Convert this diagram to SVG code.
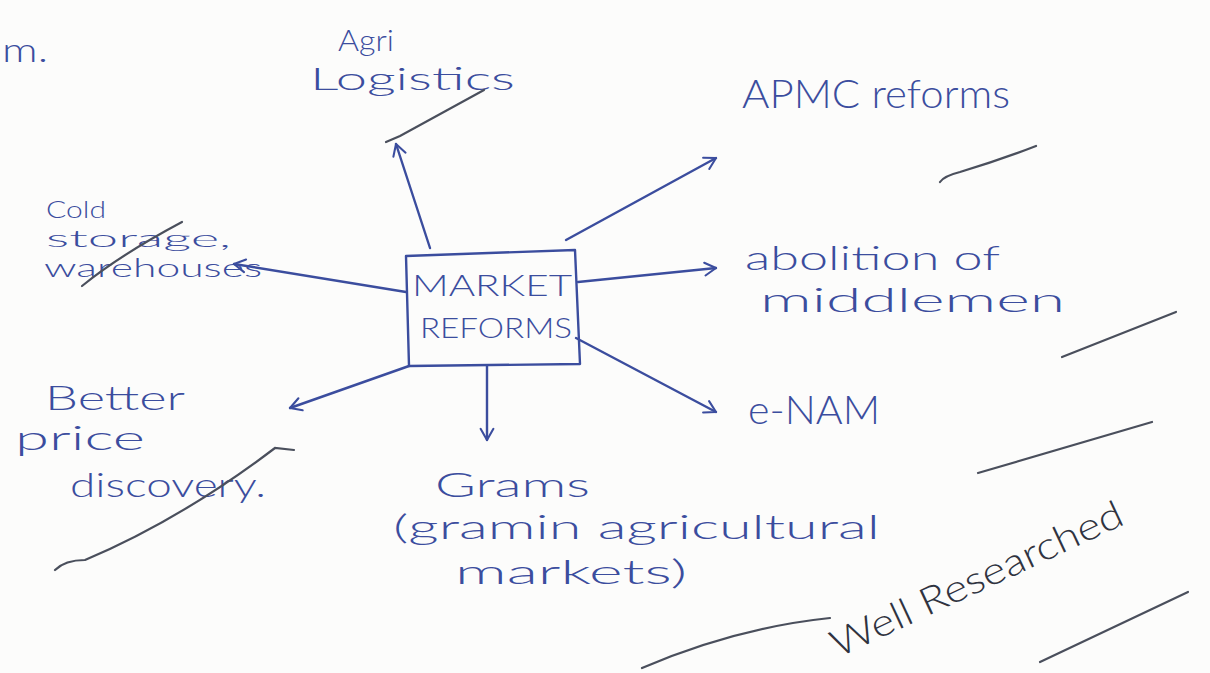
<svg xmlns="http://www.w3.org/2000/svg" width="1210" height="673" viewBox="0 0 1210 673">
  <style>
    .ink { fill: #3b4d9e; font-family: Lato, "Liberation Sans", "DejaVu Sans", sans-serif; font-weight: 300; }
    .pen { fill: none; stroke: #3b4d9e; stroke-width: 2.4; stroke-linecap: round; stroke-linejoin: round; }
    .tick { fill: none; stroke: #4a4f5c; stroke-width: 2.2; stroke-linecap: round; }
    .note { fill: #2f3340; font-family: Lato, "Liberation Sans", "DejaVu Sans", sans-serif; font-weight: 300; }
  </style>
  <defs>
    <marker id="head" viewBox="0 0 20 20" refX="18" refY="10" markerWidth="16" markerHeight="16" markerUnits="userSpaceOnUse" orient="auto">
      <polyline points="4,2 18,10 4,18" fill="none" stroke="#3b4d9e" stroke-width="2.6" stroke-linecap="round" stroke-linejoin="round"/>
    </marker>
  </defs>
  <rect width="1210" height="673" fill="#fcfcfb"/>

  <!-- text carried over from the previous line -->
  <text class="ink" x="2" y="62" font-size="34" textLength="46" lengthAdjust="spacingAndGlyphs">m.</text>

  <!-- centre node -->
  <g id="market-reforms">
    <path class="pen" d="M406,256 L575,250 L580,364 L409,366 Z"/>
    <text class="ink" x="412" y="296" font-size="30" textLength="160" lengthAdjust="spacingAndGlyphs">MARKET</text>
    <text class="ink" x="420" y="338" font-size="28" textLength="152" lengthAdjust="spacingAndGlyphs">REFORMS</text>
  </g>

  <!-- connectors -->
  <g id="connectors">
    <path class="pen" d="M430,248 L396,144" marker-end="url(#head)"/>
    <path class="pen" d="M406,292 L234,264" marker-end="url(#head)"/>
    <path class="pen" d="M566,240 L716,158" marker-end="url(#head)"/>
    <path class="pen" d="M578,282 L716,268" marker-end="url(#head)"/>
    <path class="pen" d="M576,338 L716,412" marker-end="url(#head)"/>
    <path class="pen" d="M409,366 L290,408" marker-end="url(#head)"/>
    <path class="pen" d="M487,366 L487,440" marker-end="url(#head)"/>
  </g>

  <g id="agri-logistics">
    <text class="ink" x="338" y="51" font-size="30" textLength="56" lengthAdjust="spacingAndGlyphs">Agri</text>
    <text class="ink" x="310" y="90" font-size="32" textLength="205" lengthAdjust="spacingAndGlyphs">Logistics</text>
  </g>

  <g id="cold-storage">
    <text class="ink" x="46" y="218" font-size="24" textLength="60" lengthAdjust="spacingAndGlyphs">Cold</text>
    <text class="ink" x="46" y="247" font-size="24" textLength="185" lengthAdjust="spacingAndGlyphs">storage,</text>
    <text class="ink" x="44" y="277" font-size="25" textLength="218" lengthAdjust="spacingAndGlyphs">warehouses</text>
  </g>

  <g id="apmc-reforms">
    <text class="ink" x="742" y="108" font-size="40" textLength="268" lengthAdjust="spacingAndGlyphs">APMC reforms</text>
  </g>

  <g id="middlemen">
    <text class="ink" x="745" y="270" font-size="34" textLength="255" lengthAdjust="spacingAndGlyphs">abolition of</text>
    <text class="ink" x="760" y="312" font-size="34" textLength="305" lengthAdjust="spacingAndGlyphs">middlemen</text>
  </g>

  <g id="e-nam">
    <text class="ink" x="748" y="424" font-size="40" textLength="132" lengthAdjust="spacingAndGlyphs">e-NAM</text>
  </g>

  <g id="price-discovery">
    <text class="ink" x="45" y="410" font-size="33" textLength="140" lengthAdjust="spacingAndGlyphs">Better</text>
    <text class="ink" x="15" y="450" font-size="33" textLength="130" lengthAdjust="spacingAndGlyphs">price</text>
    <text class="ink" x="70" y="497" font-size="33" textLength="196" lengthAdjust="spacingAndGlyphs">discovery.</text>
  </g>

  <g id="grams">
    <text class="ink" x="435" y="497" font-size="34" textLength="155" lengthAdjust="spacingAndGlyphs">Grams</text>
    <text class="ink" x="393" y="539" font-size="34" textLength="487" lengthAdjust="spacingAndGlyphs">(gramin agricultural</text>
    <text class="ink" x="455" y="584" font-size="34" textLength="232" lengthAdjust="spacingAndGlyphs">markets)</text>
  </g>

  <!-- reviewer's marks -->
  <g id="review-marks">
    <path class="tick" d="M386,142 L400,136 L484,90"/>
    <path class="tick" d="M82,286 Q120,255 182,222"/>
    <path class="tick" d="M940,182 Q944,176 960,172 Q1000,160 1036,146"/>
    <path class="tick" d="M1062,357 L1176,312"/>
    <path class="tick" d="M978,473 L1152,422"/>
    <path class="tick" d="M55,570 Q65,560 85,560 Q180,520 275,448 L294,450"/>
    <path class="tick" d="M642,668 Q735,628 830,618"/>
    <path class="tick" d="M1040,662 L1188,592"/>
    <text class="note" transform="translate(838,658) rotate(-25)" font-size="38" textLength="318" lengthAdjust="spacingAndGlyphs">Well Researched</text>
  </g>
</svg>
